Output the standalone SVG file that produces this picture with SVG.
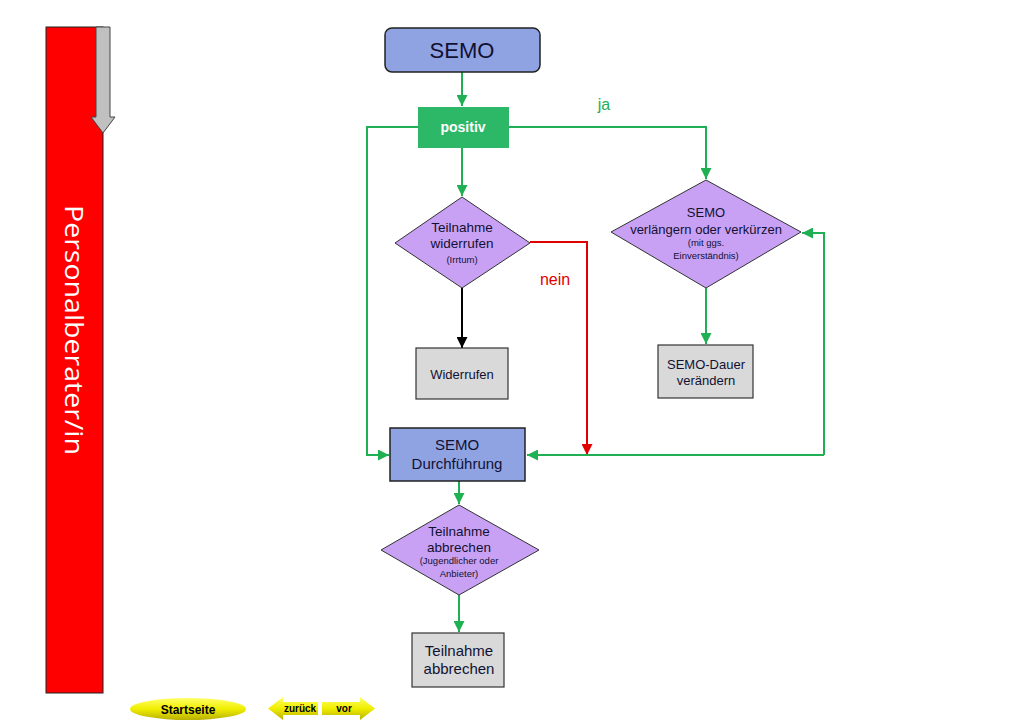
<svg xmlns="http://www.w3.org/2000/svg" width="1024" height="722" viewBox="0 0 1024 722">
<defs>
<style>
.t{font-family:"Liberation Sans",Arial,sans-serif;fill:#111133;text-anchor:middle}
.g{fill:none;stroke:#1eb053;stroke-width:2}
.r{fill:none;stroke:#e00000;stroke-width:2}
.k{fill:none;stroke:#000;stroke-width:2}
.blue{fill:#8fa3e3;stroke:#222;stroke-width:1.5}
.dia{fill:#c9a1f4;stroke:#333;stroke-width:1}
.gray{fill:#d9d9d9;stroke:#333;stroke-width:1.2}
</style>
<marker id="ag" viewBox="0 0 10 10" refX="10" refY="5" markerWidth="5.5" markerHeight="5.5" orient="auto"><path d="M0,0 L10,5 L0,10 z" fill="#1eb053"/></marker>
<marker id="ar" viewBox="0 0 10 10" refX="10" refY="5" markerWidth="5.5" markerHeight="5.5" orient="auto"><path d="M0,0 L10,5 L0,10 z" fill="#e00000"/></marker>
<marker id="ak" viewBox="0 0 10 10" refX="10" refY="5" markerWidth="5.5" markerHeight="5.5" orient="auto"><path d="M0,0 L10,5 L0,10 z" fill="#000"/></marker>
<linearGradient id="yel" x1="0" y1="0" x2="0" y2="1"><stop offset="0" stop-color="#ffff66"/><stop offset="0.5" stop-color="#f0ee00"/><stop offset="1" stop-color="#b8b000"/></linearGradient>
</defs>

<g id="lane">
<rect x="46" y="27" width="57" height="666" fill="#ff0000" stroke="#222" stroke-width="1"/>
<path d="M96,27 H110 V117 H115 L103,133 L91,117 H96 Z" fill="#c0c0c0" stroke="#444" stroke-width="1"/>
<text x="0" y="0" transform="translate(65,330) rotate(90)" textLength="250" lengthAdjust="spacingAndGlyphs" style="font-family:'Open Sans','Noto Sans',sans-serif;font-size:26px;fill:#fff;text-anchor:middle">Personalberater/in</text>
</g>

<g id="connectors">
<path class="g" d="M462,72 V106" marker-end="url(#ag)"/>
<path class="g" d="M418,127 H367 V455 H389" marker-end="url(#ag)"/>
<path class="g" d="M509,127 H706 V179" marker-end="url(#ag)"/>
<path class="g" d="M462,148 V196" marker-end="url(#ag)"/>
<path class="r" d="M530,242 H587 V455" marker-end="url(#ar)"/>
<path class="k" d="M462,288 V348" marker-end="url(#ak)"/>
<path class="g" d="M706,288 V344" marker-end="url(#ag)"/>
<path class="g" d="M824,455 H527" marker-end="url(#ag)"/>
<path class="g" d="M824,455 V233 H802" marker-end="url(#ag)"/>
<path class="g" d="M459,481 V504" marker-end="url(#ag)"/>
<path class="g" d="M459,595 V632" marker-end="url(#ag)"/>
<text x="604" y="110" style="font-family:'Liberation Sans',Arial,sans-serif;font-size:16px;fill:#1eb053;text-anchor:middle">ja</text>
<text x="555" y="285" style="font-family:'Liberation Sans',Arial,sans-serif;font-size:16px;fill:#e00000;text-anchor:middle">nein</text>
</g>

<g id="semo">
<rect class="blue" x="385" y="28" width="155" height="44" rx="7"/>
<text class="t" x="462" y="58" font-size="22">SEMO</text>
</g>

<g id="positiv">
<rect x="418" y="107" width="91" height="41" fill="#2cb866"/>
<text class="t" x="463" y="132" font-size="14" font-weight="bold" style="fill:#fff">positiv</text>
</g>

<g id="widerrufen-dia">
<path class="dia" d="M462,197 L530,243 L462,288 L395,243 Z"/>
<text class="t" x="462" y="232" font-size="13.5">Teilnahme</text>
<text class="t" x="462" y="248" font-size="13.5">widerrufen</text>
<text class="t" x="462" y="263" font-size="9.5">(Irrtum)</text>
</g>

<g id="widerrufen">
<rect class="gray" x="416" y="348" width="92" height="51"/>
<text class="t" x="462" y="379" font-size="13">Widerrufen</text>
</g>

<g id="verlaengern-dia">
<path class="dia" d="M706,180 L801,232 L706,288 L611,232 Z"/>
<text class="t" x="706" y="217" font-size="13">SEMO</text>
<text class="t" x="706" y="234" font-size="13">verlängern oder verkürzen</text>
<text class="t" x="706" y="246" font-size="9.5">(mit  ggs.</text>
<text class="t" x="706" y="259" font-size="9.5">Einverständnis)</text>
</g>

<g id="dauer">
<rect class="gray" x="658" y="345" width="95" height="53"/>
<text class="t" x="706" y="369" font-size="13">SEMO-Dauer</text>
<text class="t" x="706" y="385" font-size="13">verändern</text>
</g>

<g id="durchfuehrung">
<rect class="blue" x="390" y="428" width="135" height="53"/>
<text class="t" x="457" y="450" font-size="15">SEMO</text>
<text class="t" x="457" y="469" font-size="15">Durchführung</text>
</g>

<g id="abbrechen-dia">
<path class="dia" d="M459,505 L539,550 L459,595 L381,550 Z"/>
<text class="t" x="459" y="536" font-size="13.5">Teilnahme</text>
<text class="t" x="459" y="552" font-size="13.5">abbrechen</text>
<text class="t" x="459" y="564" font-size="9.5">(Jugendlicher oder</text>
<text class="t" x="459" y="577" font-size="9.5">Anbieter)</text>
</g>

<g id="abbrechen">
<rect class="gray" x="412" y="633" width="92" height="54"/>
<text class="t" x="459" y="656" font-size="15">Teilnahme</text>
<text class="t" x="459" y="674" font-size="15">abbrechen</text>
</g>

<g id="startseite">
<ellipse cx="188" cy="709" rx="58" ry="11" fill="url(#yel)"/>
<text class="t" x="188" y="713.5" font-size="12" font-weight="bold" style="fill:#000">Startseite</text>
</g>
<g id="zurueck">
<path d="M268,708.5 L283,697 V702 H318 V715 H283 V720 Z" fill="url(#yel)"/>
<text class="t" x="300" y="712" font-size="10" font-weight="bold" style="fill:#000">zurück</text>
</g>
<g id="vor">
<path d="M322,702 H360 V697 L375,708.5 L360,720 V715 H322 Z" fill="url(#yel)"/>
<text class="t" x="344" y="712" font-size="10" font-weight="bold" style="fill:#000">vor</text>
</g>
</svg>
